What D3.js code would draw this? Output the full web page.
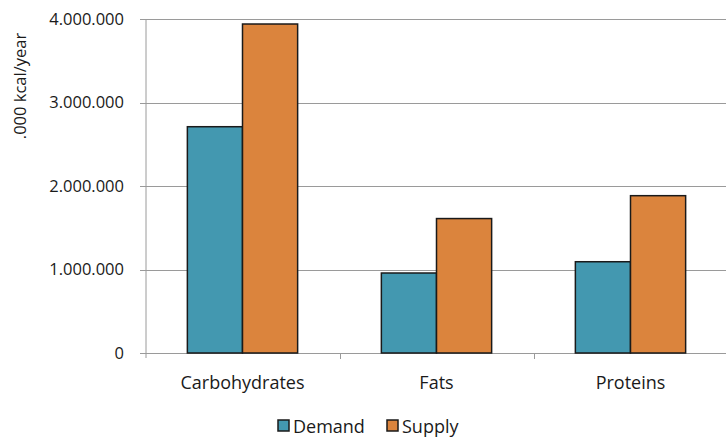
<!DOCTYPE html>
<html><head><meta charset="utf-8">
<script src="https://cdn.jsdelivr.net/npm/d3@7"></script>
<style>body{margin:0;background:#fff}svg{display:block}text{font-family:"Open Sans",sans-serif;fill:#1a1a1a}</style>
</head><body><svg id="c" width="726" height="440"></svg>
<script>
const categories = ["Carbohydrates", "Fats", "Proteins"];
const seriesNames = ["Demand", "Supply"];
const demand = [2710000, 958000, 1093000];
const supply = [3940000, 1610000, 1884000];
const yTicks = [0, 1000000, 2000000, 3000000, 4000000];
const colors = ["#4398B0", "#DB843D"];

const svg = d3.select("#c");
const x = d3.scaleBand().domain(categories).range([145.5, 727.5]).paddingInner(0).paddingOuter(0);
const y = d3.scaleLinear().domain([0, 4000000]).range([353, 19]);
const fmt = v => v === 0 ? "0" : d3.format(",")(v).replace(/,/g, ".");

svg.append("g").selectAll("line").data(yTicks).join("line")
  .attr("x1", 140).attr("x2", 726)
  .attr("y1", d => Math.round(y(d)) + 0.5).attr("y2", d => Math.round(y(d)) + 0.5)
  .attr("stroke", "#9a9a9a").attr("stroke-width", 1);

svg.append("line").attr("x1", 146).attr("x2", 146).attr("y1", 19).attr("y2", 358)
  .attr("stroke", "#9a9a9a").attr("stroke-width", 1);

svg.append("g").selectAll("text").data(yTicks).join("text")
  .attr("x", 124).attr("y", d => y(d)).attr("dy", "0.36em")
  .attr("text-anchor", "end").style("font-size", "16.5px").text(fmt);

const boundaries = categories.slice(1).map(c => x(c));
svg.append("g").selectAll("line").data(boundaries).join("line")
  .attr("x1", d => Math.round(d) + 0.5).attr("x2", d => Math.round(d) + 0.5)
  .attr("y1", 353).attr("y2", 359).attr("stroke", "#9a9a9a");

const xs = d3.scaleBand().domain(seriesNames).range([0, x.bandwidth()]).paddingInner(0).paddingOuter(0.7593);
const rows = categories.map((c, i) => ({c, vals: [demand[i], supply[i]]}));
const g = svg.append("g").selectAll("g").data(rows).join("g")
  .attr("transform", d => `translate(${x(d.c)},0)`);
g.selectAll("rect").data(d => d.vals.map((v, j) => ({v, s: seriesNames[j], j}))).join("rect")
  .attr("x", d => xs(d.s)).attr("width", xs.bandwidth())
  .attr("y", d => y(d.v)).attr("height", d => y(0) - y(d.v))
  .attr("fill", d => colors[d.j]).attr("stroke", "#1a1a1a").attr("stroke-width", 1.5);

svg.append("g").selectAll("text").data(categories).join("text")
  .attr("x", d => x(d) + x.bandwidth() / 2).attr("y", 389)
  .attr("text-anchor", "middle").style("font-size", "18px").text(d => d);

svg.append("text").attr("transform", "translate(26,86) rotate(-90)")
  .attr("text-anchor", "middle").style("font-size", "16.5px").text(".000 kcal/year");

const leg = [{n: "Demand", sx: 278, tx: 293}, {n: "Supply", sx: 387, tx: 402}];
leg.forEach((l, i) => {
  svg.append("rect").attr("x", l.sx).attr("y", 420).attr("width", 11).attr("height", 11)
    .attr("fill", colors[i]).attr("stroke", "#1a1a1a").attr("stroke-width", 1.5);
  svg.append("text").attr("x", l.tx).attr("y", 433).style("font-size", "18px").text(l.n);
});
</script></body></html>
